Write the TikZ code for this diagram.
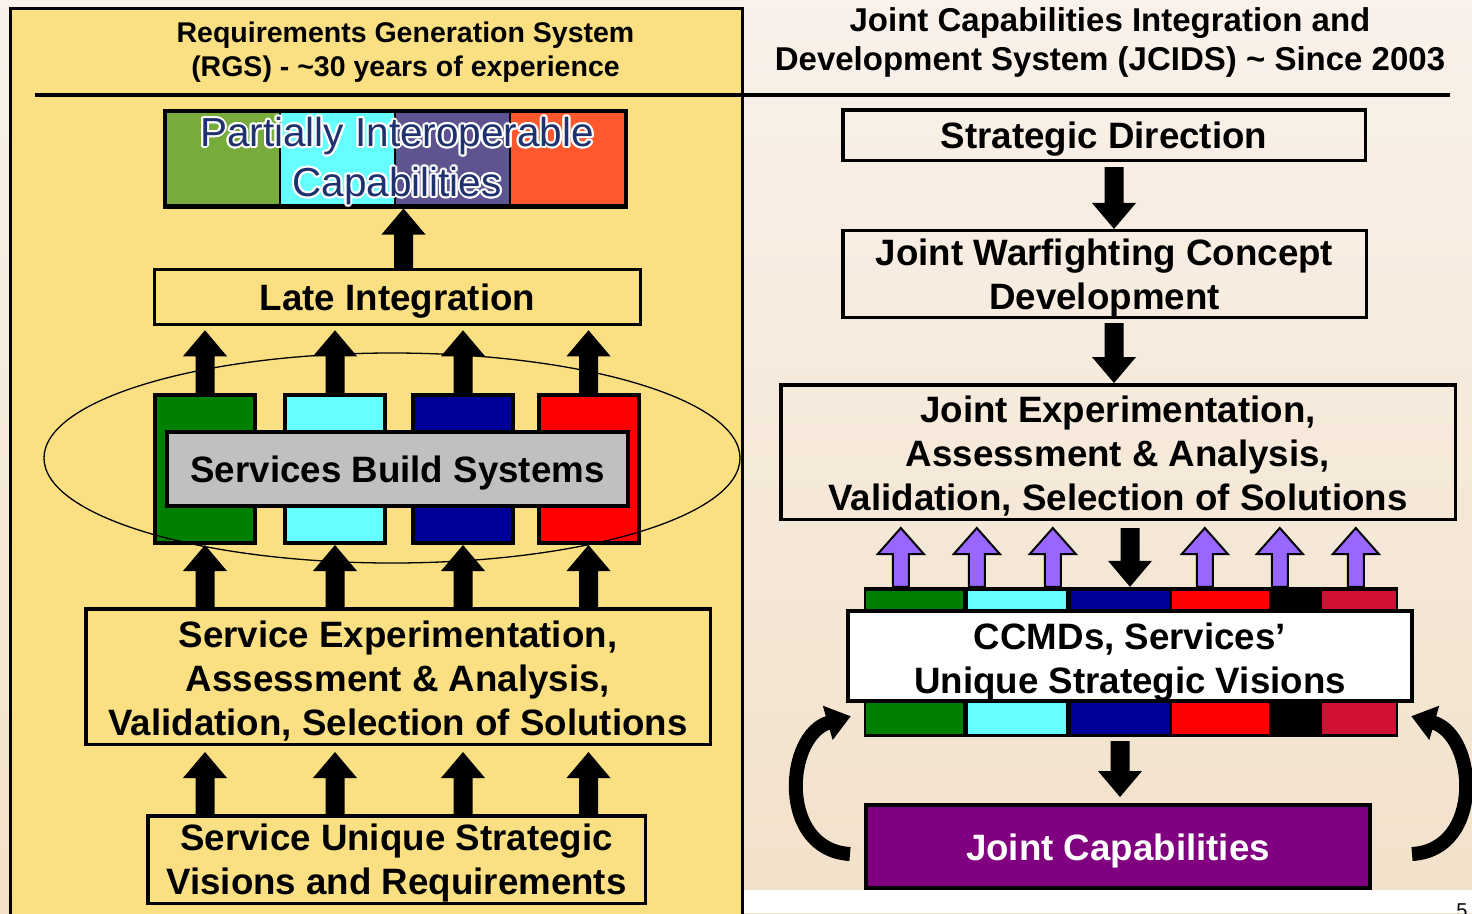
\documentclass[tikz,border=0pt]{standalone}
\usepackage{fontspec}
\setmainfont{Liberation Sans}
\usetikzlibrary{calc,arrows.meta}
\IfFileExists{contour.sty}{\usepackage{contour}\contourlength{2pt}}{\newcommand\contour[2]{#2}}
\newcommand\tstrut[1][35pt]{\rule{0pt}{#1}}
\definecolor{ybg}{RGB}{251,224,131}
\definecolor{bgA}{RGB}{249,241,234}
\definecolor{bgB}{RGB}{242,225,202}
\definecolor{pgreen}{RGB}{119,172,61}
\definecolor{pcyan}{RGB}{102,255,255}
\definecolor{ppurp}{RGB}{95,84,144}
\definecolor{porange}{RGB}{255,88,46}
\definecolor{dgreen}{RGB}{0,128,0}
\definecolor{dblue}{RGB}{0,0,153}
\definecolor{crim}{RGB}{210,16,52}
\definecolor{jcpurp}{RGB}{128,0,128}
\definecolor{arrpurp}{RGB}{153,102,255}
\definecolor{navytxt}{RGB}{31,50,110}
\definecolor{sbgray}{RGB}{192,192,192}
\tikzset{
  bx/.style={draw, line width=3.5pt, inner sep=0pt, align=center,
    font=\bfseries\fontsize{36.7}{44}\selectfont},
  colbox/.style={draw, line width=4pt, minimum width=100pt, minimum height=148pt, inner sep=0pt},
  segbox/.style={draw, line width=1.5pt, minimum width=115pt, minimum height=93pt, inner sep=0pt},
  arrsw/.store in=\arrsw, arrhw/.store in=\arrhw, arrhl/.store in=\arrhl,
  arrsw=9.5pt, arrhw=22pt, arrhl=26pt,
  blkup/.style={fill=black, to path={let \p1=(\tikztostart), \p2=(\tikztotarget) in
    (\x1-\arrsw,\y1) -- (\x1-\arrsw,\y2-\arrhl) -- (\x1-\arrhw,\y2-\arrhl) -- (\x1,\y2)
    -- (\x1+\arrhw,\y2-\arrhl) -- (\x1+\arrsw,\y2-\arrhl) -- (\x1+\arrsw,\y1) -- cycle}},
  blkdown/.style={fill=black, to path={let \p1=(\tikztostart), \p2=(\tikztotarget) in
    (\x1-\arrsw,\y1) -- (\x1-\arrsw,\y2+\arrhl) -- (\x1-\arrhw,\y2+\arrhl) -- (\x1,\y2)
    -- (\x1+\arrhw,\y2+\arrhl) -- (\x1+\arrsw,\y2+\arrhl) -- (\x1+\arrsw,\y1) -- cycle}},
  purup/.style={blkup, fill=arrpurp, draw=black, line width=2pt, arrsw=8pt, arrhw=23pt, arrhl=26pt},
  curv/.style={line width=14pt, -{Triangle[width=34pt,length=24pt]}},
}
\begin{document}
\begin{tikzpicture}[x=1pt,y=-1pt]
\useasboundingbox (0,0) rectangle (1472,913);
\shade[top color=bgA, bottom color=bgB] (0,0) rectangle (1472,913);
\fill[white] (742,890) rectangle (1472,913);
\fill[ybg] (10,8) rectangle (742,920);
\draw[line width=3pt] (10,920) -- (10,8) -- (742,8) -- (742,920);
\draw[line width=3.5pt] (35,95) -- (1450,95);

% titles
\node[font=\bfseries\fontsize{28.5}{34}\selectfont, align=center] (ltitle) at (405.5,52)
  {Requirements Generation System\\(RGS) - \textasciitilde30 years of experience};
\node[font=\bfseries\fontsize{33}{39}\selectfont, align=center] (rtitle) at (1110,42.5)
  {Joint Capabilities Integration and\\Development System (JCIDS) \textasciitilde{} Since 2003};

% ---------- left ----------
\node[segbox, fill=pgreen] (s1) at (223,158.5) {};
\node[segbox, fill=pcyan] (s2) at (337.5,158.5) {};
\node[segbox, fill=ppurp] (s3) at (453,158.5) {};
\node[segbox, fill=porange] (s4) at (567.5,158.5) {};
\node[draw, line width=4pt, minimum width=461pt, minimum height=96pt, inner sep=0pt] (pic) at (395,158.5) {};
\node[font=\fontsize{40.5}{50}\selectfont, text=navytxt, align=center] (pictext) at (397,162)
  {\contour{white}{Partially Interoperable}\\\contour{white}{Capabilities}};

\node[bx, minimum width=486pt, minimum height=55pt] (late) at (397.5,297) {\tstrut Late Integration};

\node[colbox, fill=dgreen] (c1) at (205,469) {};
\node[colbox, fill=pcyan] (c2) at (335,469) {};
\node[colbox, fill=dblue] (c3) at (463,469) {};
\node[colbox, fill=red] (c4) at (588.5,469) {};
\node[bx, fill=sbgray, line width=4pt, minimum width=461pt, minimum height=74pt] (sbs) at (397.5,469) {\tstrut Services Build Systems};
\draw[line width=1.3pt] (392,458) ellipse [x radius=348, y radius=105];

\node[bx, minimum width=624.5pt, minimum height=135.5pt] (sexp) at (398,676.5)
  {\tstrut Service Experimentation,\\Assessment \& Analysis,\\Validation, Selection of Solutions};
\node[bx, minimum width=497.5pt, minimum height=87.5pt] (sus) at (396.5,859.5)
  {\tstrut[33pt]Service Unique Strategic\\Visions and Requirements};

\fill[blkup] ([xshift=6pt]late.north) to (pic.south);
\foreach \cb in {c1,c2,c3,c4}{
  \fill[blkup] (\cb.north) to ([yshift=-4pt]late.south);
  \fill[blkup] (sexp.north -| \cb) to (\cb.south);
  \fill[blkup] (sus.north -| \cb) to ([yshift=-6pt]sexp.south);
}

% ---------- right ----------
\node[bx, minimum width=522.5pt, minimum height=50.5pt] (sd) at (1104,135) {\tstrut Strategic Direction};
\node[bx, minimum width=523.5pt, minimum height=86.5pt] (jw) at (1104.5,274) {\tstrut Joint Warfighting Concept\\Development};
\node[bx, minimum width=674.5pt, minimum height=134.5pt] (jea) at (1118,452)
  {\tstrut Joint Experimentation,\\Assessment \& Analysis,\\Validation, Selection of Solutions};
\fill[blkdown] ([xshift=10pt,yshift=-5pt]sd.south) to (jw.north);
\fill[blkdown] ([xshift=9.5pt,yshift=-4pt]jw.south) to (jea.north);

\node[fill=black, minimum width=534pt, minimum height=150pt, inner sep=0pt] (bar) at (1131,662) {};
\foreach \a/\b/\c in {866/963/dgreen, 968/1066/pcyan, 1071/1169/dblue, 1172/1269/red, 1322/1396/crim}{
  \fill[\c] (\a,591) rectangle (\b,613);
  \fill[\c] (\a,700) rectangle (\b,734);
}
\node[bx, fill=white, line width=4pt, minimum width=564pt, minimum height=80pt] (ccmd) at (1130,656)
  {\tstrut[38.5pt]CCMDs, Services’\\Unique Strategic Visions};

\foreach \dd in {37,113,189,341,416,492}{
  \filldraw[purup] ([xshift=\dd pt]bar.north west) to ([yshift=-7pt]jea.south);
}
\fill[blkdown] ([xshift=12pt,yshift=-7pt]jea.south) to (bar.north);

\node[bx, fill=jcpurp, text=white, line width=4pt, minimum width=504pt, minimum height=83pt] (jc) at (1118,846.5) {\tstrut Joint Capabilities};
\fill[blkdown] ([xshift=-11pt,yshift=-4pt]bar.south) to ([yshift=6pt]jc.north);

\coordinate (lcs) at ($(jc.west)+(-14,7.5)$);
\coordinate (lce) at ($(bar.south west)+(-13,-21)$);
\coordinate (rcs) at ($(jc.east)+(40,7.5)$);
\coordinate (rce) at ($(bar.south east)+(13,-21)$);
\draw[curv] (lcs) .. controls +(-72,-4) and +(-66,19) .. (lce);
\draw[curv] (rcs) .. controls +(72,-4) and +(66,19) .. (rce);

\node[anchor=north, font=\fontsize{20}{24}\selectfont, inner sep=0pt] (pg) at (1462,904) {5};
\end{tikzpicture}
\end{document}
